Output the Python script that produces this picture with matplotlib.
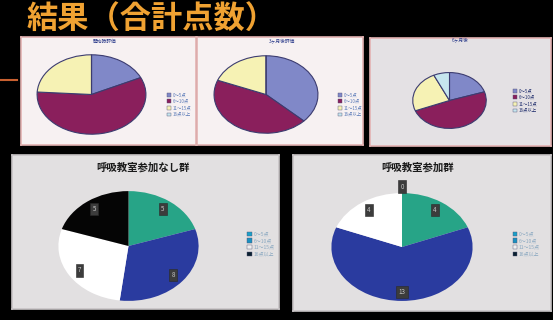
import numpy as np
import matplotlib.pyplot as plt
from matplotlib.lines import Line2D

plt.rcParams['font.family'] = ['Noto Sans CJK JP', 'DejaVu Sans']

W, H = 553, 320

title = "結果（合計点数）"
score_bins = ["0～5点", "6～10点", "11～15点", "16点以上"]

# upper row: score distribution (%) at three time points
top_titles = ["開始時評価", "3ヶ月後評価", "6ヶ月後"]
top_values = [
    [18, 58, 24, 0],
    [37, 44, 19, 0],
    [20, 49, 24, 7],
]
top_colors = ["#8088c8", "#8a1f5c", "#f6f2b4", "#c6e6ee"]

# lower row: number of patients per score range
group_titles = ["呼吸教室参加なし群", "呼吸教室参加群"]
group_counts = [
    [5, 8, 7, 5],
    [4, 13, 4, 0],
]
group_colors = ["#27a487", "#2a3b9f", "#ffffff", "#050505"]


def box(x, y, w, h):
    # pixel box (top-left origin) -> figure fraction
    return [x / W, 1 - (y + h) / H, w / W, h / H]


fig = plt.figure(figsize=(W / 100, H / 100), dpi=100, facecolor="black")

fig.text(27 / W, 1 - 20 / H, title, color="#f0a232", fontsize=22.5,
         fontweight="bold", va="center", ha="left")
fig.add_artist(Line2D([0, 17 / W], [1 - 80 / H] * 2, color="#c86030", lw=1.5))


def panel(rect, face, edge):
    ax = fig.add_axes(box(*rect))
    ax.set_facecolor(face)
    ax.set_xticks([])
    ax.set_yticks([])
    for s in ax.spines.values():
        s.set_color(edge)
        s.set_linewidth(1.2)
    return ax


def stretched_pie(rect, values, colors, edge):
    ax = fig.add_axes(box(*rect))
    wedges, _ = ax.pie(values, colors=colors, startangle=90, counterclock=False,
                       wedgeprops=dict(edgecolor=edge, linewidth=0.8 if edge != "none" else 0))
    ax.set_aspect("auto")
    ax.set_xlim(-1.02, 1.02)
    ax.set_ylim(-1.02, 1.02)
    ax.axis("off")
    return ax, wedges


def small_legend(x, y, colors, text_color, fs=3.2):
    handles = [plt.Rectangle((0, 0), 1, 1, facecolor=c, edgecolor="#555577", lw=0.3)
               for c in colors]
    leg = fig.legend(handles, score_bins, loc="upper left",
                     bbox_to_anchor=(x / W, 1 - y / H), frameon=False,
                     fontsize=fs, handlelength=0.9, handleheight=0.9,
                     labelspacing=0.35, handletextpad=0.4, borderpad=0)
    for t in leg.get_texts():
        t.set_color(text_color)
    return leg


# upper panels
top_panels = [(21, 37, 175, 108), (197, 37, 166, 108), (370, 38, 181, 108)]
top_faces = ["#f7f1f2", "#f7f1f2", "#e4e1e4"]
top_pies = [(36, 54, 111, 81), (213, 55, 106, 79), (412, 72, 75, 57)]
legend_pos = [(165, 90), (336, 90), (511, 86)]
legend_text = ["#5a7ab8", "#5a7ab8", "#1c2a6a"]
title_x = [104, 282, 460]

for i in range(3):
    panel(top_panels[i], top_faces[i], "#e3b2b2")
    stretched_pie(top_pies[i], top_values[i], top_colors, "#3c3c70")
    fig.text(title_x[i] / W, 1 - 41 / H, top_titles[i], fontsize=3.4,
             color="#2a3a8a", ha="center", va="center")
    small_legend(*legend_pos[i], top_colors, legend_text[i])

# lower panels
low_panels = [(12, 155, 267, 154), (293, 155, 258, 156)]
low_pies = [(57, 190, 143, 112), (330, 192, 144, 110)]
low_legend = [(245, 229), (510, 229)]
low_title_x = [143, 418]

for i in range(2):
    panel(low_panels[i], "#e2e0e1", "#c8c4c6")
    ax, wedges = stretched_pie(low_pies[i], group_counts[i], group_colors, "none")
    for w, n in zip(wedges, group_counts[i]):
        mid = np.deg2rad((w.theta1 + w.theta2) / 2)
        r = 0.83 if n > 0 else 1.12
        ax.text(r * np.cos(mid), r * np.sin(mid), str(n), fontsize=4.5,
                color="#c8c8c8", ha="center", va="center", clip_on=False,
                bbox=dict(boxstyle="square,pad=0.35", facecolor="#3c3c3c",
                          edgecolor="#2a2a2a", lw=0.4))
    fig.text(low_title_x[i] / W, 1 - 167 / H, group_titles[i], fontsize=7.5,
             fontweight="bold", color="#1a1a1a", ha="center", va="center")
    small_legend(*low_legend[i], ["#1aa0c8", "#1a90c0", "#f0f0f0", "#0a2030"],
                 "#8aa8c0", fs=3.6)

fig.savefig("out.png", dpi=100, facecolor="black")
